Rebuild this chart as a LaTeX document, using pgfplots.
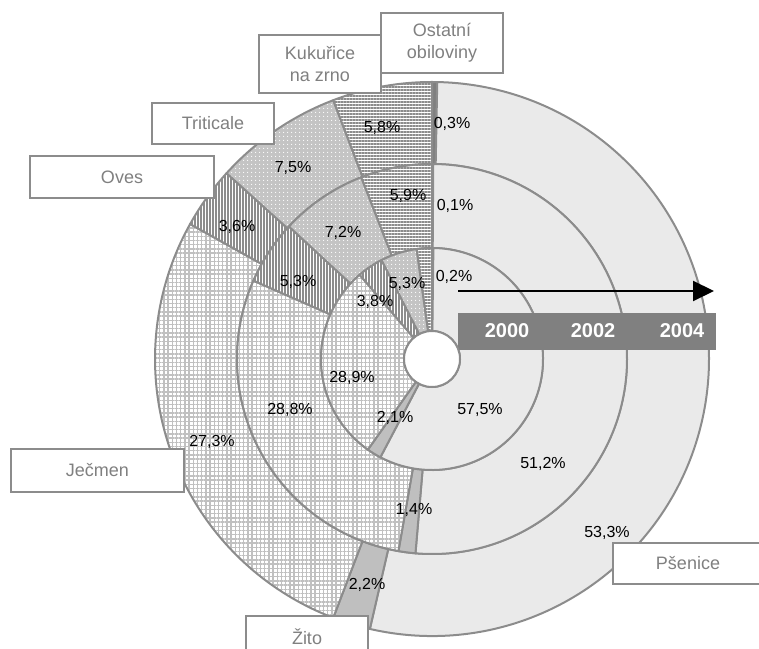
\documentclass[border=0pt]{standalone}
\usepackage{pgfplots}
\pgfplotsset{compat=1.18}
\usepackage{pgfplotstable}
\usepackage{fontspec}
\setmainfont{Liberation Sans}
\usetikzlibrary{patterns.meta,arrows.meta}

\definecolor{edge}{HTML}{8C8C8C}
\definecolor{labgray}{HTML}{808080}
\definecolor{wheat}{HTML}{EAEAEA}
\definecolor{rye}{HTML}{BFBFBF}
\definecolor{other}{HTML}{7F7F7F}
\definecolor{tritbg}{HTML}{C4C4C4}
\definecolor{hatchc}{HTML}{C0C0C0}
\definecolor{linec}{HTML}{8C8C8C}
\definecolor{yearbar}{HTML}{808080}

% podíly obilovin (%), po směru hodinových ručiček od 12 hodin
\pgfplotstableread[col sep=comma]{
name,y2000,y2002,y2004
Ostatni,0.2,0.1,0.3
Psenice,57.5,51.2,53.3
Zito,2.1,1.4,2.2
Jecmen,28.9,28.8,27.3
Oves,3.8,5.3,3.6
Triticale,5.3,7.2,7.5
Kukurice,2.2,5.9,5.8
}\cereals

\tikzset{
  sector/.style={draw=edge, line width=2pt, line join=round},
  slice0/.style={fill=other},
  slice1/.style={fill=wheat},
  slice2/.style={fill=rye},
  slice3/.style={preaction={fill=white}, pattern={Hatch[angle=0,distance=4.2pt,line width=1.4pt]}, pattern color=hatchc},
  slice4/.style={preaction={fill=white}, pattern={Lines[angle=90,distance=3pt,line width=1.2pt]}, pattern color=linec},
  slice5/.style={preaction={fill=tritbg}, pattern={Dots[distance=4pt,radius=0.7pt]}, pattern color=white},
  slice6/.style={preaction={fill=white}, pattern={Lines[angle=0,distance=3pt,line width=1.4pt]}, pattern color=linec},
  lab/.style={font=\fontsize{16}{18}\selectfont, text=black, inner sep=0pt},
  box/.style={draw=edge, line width=2pt, fill=white, text=labgray, align=center,
    font=\fontsize{18}{22}\selectfont, inner sep=0pt},
}

% jeden prstenec: sloupec, vnitřní a vnější poloměr
\newcommand\ring[3]{%
  \def\total{0}%
  \pgfplotsforeachungrouped \i in {0,...,6}{%
    \pgfplotstablegetelem{\i}{#1}\of\cereals
    \pgfmathsetmacro\total{\total+\pgfplotsretval}}%
  \def\cum{0}%
  \pgfplotsforeachungrouped \i in {0,...,6}{%
    \pgfplotstablegetelem{\i}{#1}\of\cereals
    \pgfmathsetmacro\angA{90-360*(\cum/\total)}%
    \pgfmathsetmacro\cum{\cum+\pgfplotsretval}%
    \pgfmathsetmacro\angB{90-360*(\cum/\total)}%
    \pgfmathsetmacro\xa{432+#2*cos(\angA)}\pgfmathsetmacro\ya{289+#2*sin(\angA)}%
    \pgfmathsetmacro\xb{432+#3*cos(\angB)}\pgfmathsetmacro\yb{289+#3*sin(\angB)}%
    \edef\temp{\noexpand\path[sector,slice\i] (\xa,\ya)
      arc[start angle=\angA,end angle=\angB,radius=#2pt] -- (\xb,\yb)
      arc[start angle=\angB,end angle=\angA,radius=#3pt] -- cycle;}%
    \temp}%
}

\begin{document}
\begin{tikzpicture}
\begin{axis}[
  x=1pt, y=1pt,
  xmin=0, xmax=759, ymin=0, ymax=648,
  hide axis, clip=false,
]
  \coordinate (LL) at (0,0);
  \coordinate (UR) at (759,648);

  \ring{y2004}{195}{277}
  \ring{y2002}{111}{195}
  \ring{y2000}{28}{111}

  % roky
  \fill[yearbar] (458,298) rectangle (716,335);
  \draw[edge, line width=2pt, fill=white] (432,289) circle[radius=28pt];
  \begin{scope}[font=\fontsize{20}{22}\selectfont\bfseries, text=white]
    \node at (507,317) {2000};
    \node at (593,317) {2002};
    \node at (682,317) {2004};
  \end{scope}
  \draw[line width=2pt, -{Triangle[length=21pt,width=20pt]}] (458,357) -- (714,357);

  % hodnoty 2004
  \node[lab] at (452,524) {0,3\%};
  \node[lab] at (382,520) {5,8\%};
  \node[lab] at (293,480) {7,5\%};
  \node[lab] at (237,421) {3,6\%};
  \node[lab] at (212,206) {27,3\%};
  \node[lab] at (367,63) {2,2\%};
  \node[lab] at (607,115) {53,3\%};
  % hodnoty 2002
  \node[lab] at (455,442) {0,1\%};
  \node[lab] at (408,452) {5,9\%};
  \node[lab] at (343,415) {7,2\%};
  \node[lab] at (298,366) {5,3\%};
  \node[lab] at (290,238) {28,8\%};
  \node[lab] at (414,138) {1,4\%};
  \node[lab] at (543,184) {51,2\%};
  % hodnoty 2000
  \node[lab] at (454,371) {0,2\%};
  \node[lab] at (407,364) {5,3\%};
  \node[lab] at (375,346) {3,8\%};
  \node[lab] at (352,270) {28,9\%};
  \node[lab] at (395,230) {2,1\%};
  \node[lab] at (480,238) {57,5\%};

  % popisky
  \node[box, minimum width=122pt, minimum height=60pt] at (442,605) {Ostatní\\obiloviny};
  \node[box, minimum width=122pt, minimum height=58pt] at (320,584) {Kukuřice\\na zrno};
  \node[box, minimum width=122pt, minimum height=41pt] at (213,524.5) {Triticale};
  \node[box, minimum width=184pt, minimum height=42pt] at (122,471) {Oves};
  \node[box, minimum width=173pt, minimum height=43pt] at (97.5,177.5) {Ječmen};
  \node[box, minimum width=122pt, minimum height=42pt] at (307,11) {Žito};
  \node[box, minimum width=150pt, minimum height=41pt] at (688,84.5) {Pšenice};
\end{axis}
\pgfresetboundingbox
\path (LL) rectangle (UR);
\end{tikzpicture}
\end{document}
